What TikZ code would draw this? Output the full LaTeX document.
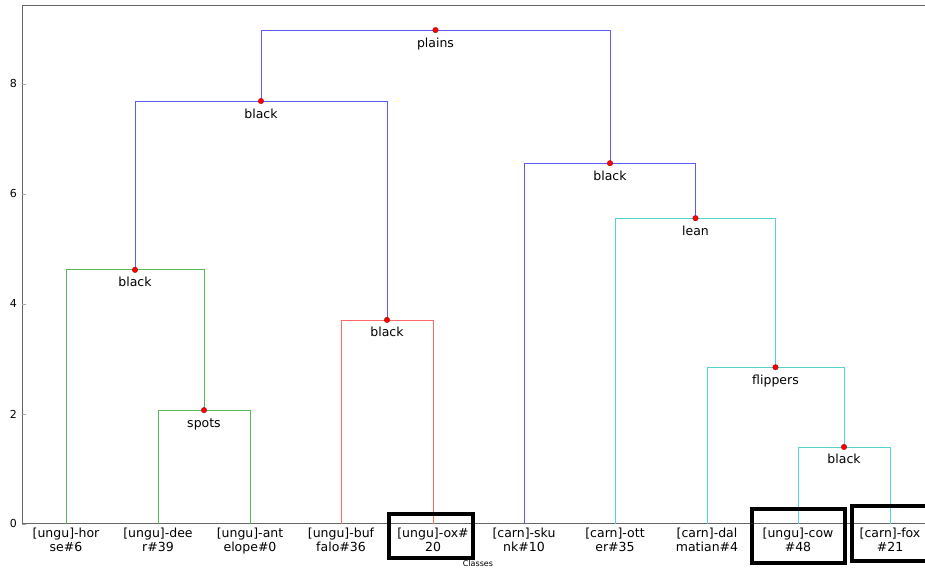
\documentclass[tikz,border=0pt]{standalone}
\usepackage{fontspec}
\setmainfont{DejaVu Sans}
\usepackage{xcolor}
\usepackage{tikz}
\usetikzlibrary{positioning}

\definecolor{lkblue}{RGB}{90,90,255}
\definecolor{lkgreen}{RGB}{85,185,85}
\definecolor{lkred}{RGB}{255,105,105}
\definecolor{lkcyan}{RGB}{85,210,210}

\tikzset{
  link/.style={line width=0.8pt},
  split/.style={circle, fill=red, draw=red!60!black, line width=0.3pt, inner sep=0pt, minimum size=5.5pt},
  splitlbl/.style={anchor=base, inner sep=0pt, font=\fontsize{12.5}{14}\selectfont},
  leaf/.style={anchor=north, inner sep=0pt, yshift=-4pt, align=center, font=\fontsize{12.5}{13.5}\selectfont},
  ticklbl/.style={anchor=east, inner sep=0pt, font=\fontsize{11}{12}\selectfont},
  hlbox/.style={draw=black, line width=4pt, inner sep=0pt}
}

\begin{document}
\begin{tikzpicture}[x=1pt, y=55pt]
			\useasboundingbox (-22,-0.818) rectangle (903,9.527);

			% axes
			\draw[black!60, line width=1pt] (0,0) rectangle (912,9.418);
			\foreach \v in {0,2,4,6,8} {
				\draw[black!35, line width=0.6pt] (0,\v) -- (4,\v);
				\node[ticklbl] (tick\v) at (-5,\v) {\v};
			}
			\node[font=\fontsize{8}{9}\selectfont, inner sep=0pt] (xlbl) at (456,-0.71) {Classes};

			% leaves
			\coordinate (l1) at (44,0);
			\coordinate (l2) at (136,0);
			\coordinate (l3) at (228,0);
			\coordinate (l4) at (319,0);
			\coordinate (l5) at (411,0);
			\coordinate (l6) at (502,0);
			\coordinate (l7) at (593,0);
			\coordinate (l8) at (685,0);
			\coordinate (l9) at (776,0);
			\coordinate (l10) at (868,0);

			\node[leaf] (t1) at (l1) {[ungu]-hor\\se\#6};
			\node[leaf] (t2) at (l2) {[ungu]-dee\\r\#39};
			\node[leaf] (t3) at (l3) {[ungu]-ant\\elope\#0};
			\node[leaf] (t4) at (l4) {[ungu]-buf\\falo\#36};
			\node[leaf] (t5) at (l5) {[ungu]-ox\#\\20};
			\node[leaf] (t6) at (l6) {[carn]-sku\\nk\#10};
			\node[leaf] (t7) at (l7) {[carn]-ott\\er\#35};
			\node[leaf] (t8) at (l8) {[carn]-dal\\matian\#4};
			\node[leaf] (t9) at (l9) {[ungu]-cow\\\#48};
			\node[leaf] (t10) at (l10) {[carn]-fox\\\#21};

			% splits
			\coordinate (n1) at (182,2.07);
			\coordinate (n2) at (113,4.62);
			\coordinate (n3) at (365,3.71);
			\coordinate (n4) at (239,7.69);
			\coordinate (n5) at (822,1.40);
			\coordinate (n6) at (753.5,2.85);
			\coordinate (n7) at (673.5,5.56);
			\coordinate (n8) at (588,6.56);
			\coordinate (n9) at (413.5,8.98);

			\draw[link, lkgreen] (l2) |- (n1) -| (l3);
			\draw[link, lkgreen] (l1) |- (n2) -| (n1);
			\draw[link, lkred] (l4) |- (n3) -| (l5);
			\draw[link, lkblue] (n2) |- (n4) -| (n3);
			\draw[link, lkcyan] (l9) |- (n5) -| (l10);
			\draw[link, lkcyan] (l8) |- (n6) -| (n5);
			\draw[link, lkcyan] (l7) |- (n7) -| (n6);
			\draw[link, lkblue] (l6) |- (n8) -| (n7);
			\draw[link, lkblue] (n4) |- (n9) -| (n8);

			\foreach \n/\txt in {n1/spots, n2/black, n3/black, n4/black, n5/black,
			                     n6/flippers, n7/lean, n8/black, n9/plains} {
				\node[split] (d\n) at (\n) {};
				\node[splitlbl, below=17pt of \n, anchor=base] (s\n) {\txt};
			}

			% highlighted classes
			\node[hlbox, minimum width=84pt, minimum height=44pt] (b5) at (409,-0.218) {};
			\node[hlbox, minimum width=93pt, minimum height=54pt] (b9) at (776.5,-0.218) {};
			\node[hlbox, minimum width=80pt, minimum height=55pt] (b10) at (870,-0.173) {};
		\end{tikzpicture}
\end{document}
